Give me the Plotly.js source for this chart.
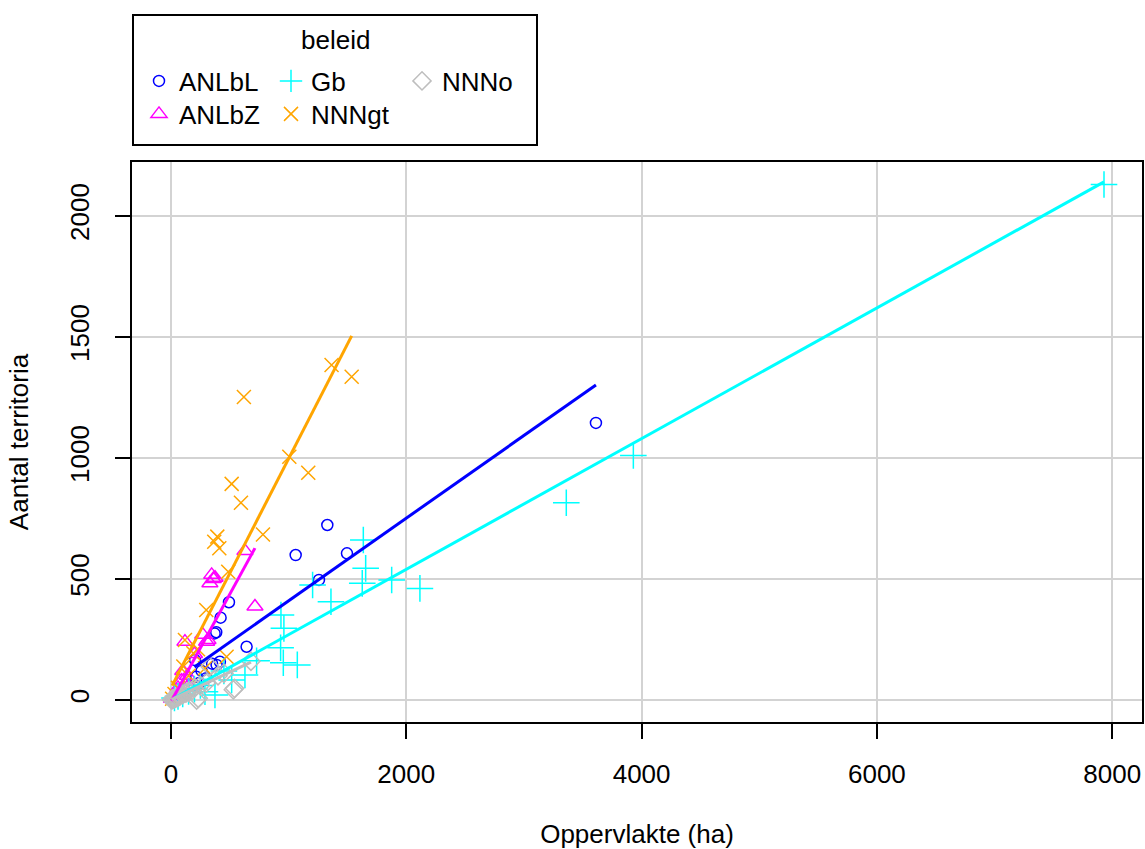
<!DOCTYPE html>
<html>
<head>
<meta charset="utf-8">
<script src="https://cdn.plot.ly/plotly-3.0.1.min.js"></script>
<style>html,body{margin:0;padding:0;background:#fff;}#chart{width:1145px;height:849px;}</style>
</head>
<body>
<div id="chart"></div>
<script>
// ---- data ----
var groups = ["ANLbL", "ANLbZ", "Gb", "NNNgt", "NNNo"];
var colors = ["#0000FF", "#FF00FF", "#00FFFF", "#FFA500", "#BEBEBE"];

var anlblX = [3612, 1329, 1060, 1496, 1258, 493, 422, 371, 385, 643, 416, 388, 205, 215, 240, 260, 300, 350, 200];
var anlblY = [1145, 723, 599, 606, 496, 404, 340, 275, 280, 220, 158, 145, 165, 96, 70, 120, 90, 150, 60];

var anlbzX = [714, 629, 346, 331, 360, 375, 303, 315, 119, 140, 200, 90, 60, 40, 20, 5, 150, 100, 270];
var anlbzY = [386, 616, 517, 482, 500, 505, 241, 248, 241, 100, 190, 80, 50, 30, 15, 5, 60, 120, 270];

var gbX = [7930, 3930, 3360, 2116, 1876, 1635, 1655, 1626, 1204, 1360, 935, 960, 932, 955, 1074, 728, 629, 516, 374, 289, 200, 150, 100, 60, 30, 250, 450];
var gbY = [2130, 1010, 815, 461, 496, 661, 544, 482, 475, 406, 351, 296, 216, 154, 145, 162, 103, 83, 21, 34, 45, 35, 25, 15, 8, 60, 120];

var nnngtX = [1365, 1536, 620, 1006, 1167, 516, 595, 782, 394, 411, 368, 487, 300, 119, 473, 105, 190, 289, 60, 30, 10, 150, 230];
var nnngtY = [1384, 1336, 1252, 1005, 939, 893, 815, 684, 675, 627, 654, 530, 372, 248, 179, 138, 193, 131, 50, 25, 5, 100, 210];

var nnnoX = [680, 540, 530, 232, 218, 331, 300, 250, 200, 150, 120, 100, 80, 60, 50, 40, 30, 20, 15, 10, 5, 70, 90, 130, 180, 400, 450];
var nnnoY = [160, 48, 42, 7, 0, 138, 70, 60, 50, 35, 28, 22, 18, 12, 10, 8, 6, 4, 3, 2, 1, 15, 25, 30, 40, 100, 110];

// regression lines (intercept, slope)
var fitIntercept = [68, -8, 0, 50, 0];
var fitSlope = [0.3416, 0.89, 0.27, 0.947, 0.23];

var xTickVals = [0, 2000, 4000, 6000, 8000];
var yTickVals = [0, 500, 1000, 1500, 2000];

var xTitle = "Oppervlakte (ha)";
var yTitle = "Aantal territoria";
var legendTitle = "beleid";

// ---- build ----
var xs = [anlblX, anlbzX, gbX, nnngtX, nnnoX];
var ys = [anlblY, anlbzY, gbY, nnngtY, nnnoY];
var symbols = ["circle-open", "triangle-up-open", "cross-thin-open", "x-thin-open", "diamond-open"];
var sizes = [11, 14, 19, 14, 14];
var legendIds = ["legend", "legend2", "legend3", "legend4", "legend5"];

var FONT = "Liberation Sans, Arial, sans-serif";
var traces = [];
for (var i = 0; i < groups.length; i++) {
  traces.push({
    type: "scatter", mode: "markers", name: groups[i],
    x: xs[i], y: ys[i],
    legend: legendIds[i],
    marker: {symbol: symbols[i], size: sizes[i], color: colors[i], line: {color: colors[i], width: 1.5}},
    hoverinfo: "x+y+name"
  });
}
for (var j = 0; j < groups.length; j++) {
  var mn = Math.min.apply(null, xs[j]), mx = Math.max.apply(null, xs[j]);
  traces.push({
    type: "scatter", mode: "lines", showlegend: false,
    x: [mn, mx],
    y: [fitIntercept[j] + fitSlope[j] * mn, fitIntercept[j] + fitSlope[j] * mx],
    line: {color: colors[j], width: 3},
    hoverinfo: "skip"
  });
}

// plot area pixels: left 132, right 1142, top 162, bottom 722
var W = 1145, H = 849, L = 132, R = 3, T = 162, B = 127;
var pw = W - L - R, ph = H - T - B;
function px(x) { return (x - L) / pw; }
function py(y) { return (H - B - y) / ph; }

function legendBox(xpx, ypx) {
  return {x: px(xpx), y: py(ypx), xanchor: "left", yanchor: "middle",
          bgcolor: "rgba(0,0,0,0)", borderwidth: 0,
          font: {family: FONT, size: 26, color: "#000"}, itemsizing: "trace"};
}

var layout = {
  width: W, height: H,
  margin: {l: L, r: R, t: T, b: B, pad: 0},
  paper_bgcolor: "#fff", plot_bgcolor: "#fff",
  font: {family: FONT, size: 26, color: "#000"},
  showlegend: true,
  xaxis: {
    range: [-331, 8253], tickvals: xTickVals, ticktext: xTickVals.map(String),
    showgrid: true, gridcolor: "#d3d3d3", gridwidth: 2, zeroline: false,
    showline: true, linecolor: "#000", linewidth: 2, mirror: true,
    ticks: "outside", ticklen: 15, tickwidth: 2, tickcolor: "#000",
    tickfont: {family: FONT, size: 26, color: "#000"},
    ticklabelstandoff: 13,
    title: {text: xTitle, font: {family: FONT, size: 26, color: "#000"}, standoff: 40},
    automargin: false
  },
  yaxis: {
    range: [-91, 2223], tickvals: yTickVals, ticktext: yTickVals.map(String),
    showgrid: true, gridcolor: "#d3d3d3", gridwidth: 2, zeroline: false,
    showline: true, linecolor: "#000", linewidth: 2, mirror: true,
    ticks: "outside", ticklen: 15, tickwidth: 2, tickcolor: "#000",
    tickangle: -90,
    tickfont: {family: FONT, size: 26, color: "#000"},
    ticklabelstandoff: 16,
    title: {text: yTitle, font: {family: FONT, size: 26, color: "#000"}, standoff: 28},
    automargin: false
  },
  legend: legendBox(139, 81),
  legend2: legendBox(139, 114),
  legend3: legendBox(271, 81),
  legend4: legendBox(271, 114),
  legend5: legendBox(402, 81),
  shapes: [{
    type: "rect", xref: "paper", yref: "paper",
    x0: px(133), x1: px(537), y0: py(145), y1: py(15),
    line: {color: "#000", width: 2}, fillcolor: "rgba(0,0,0,0)"
  }],
  annotations: [{
    text: legendTitle, xref: "paper", yref: "paper", x: px(335), y: py(40),
    xanchor: "center", yanchor: "middle", showarrow: false,
    font: {family: FONT, size: 26, color: "#000"}
  }]
};

Plotly.newPlot("chart", traces, layout, {displayModeBar: false, staticPlot: true});
</script>
</body>
</html>
